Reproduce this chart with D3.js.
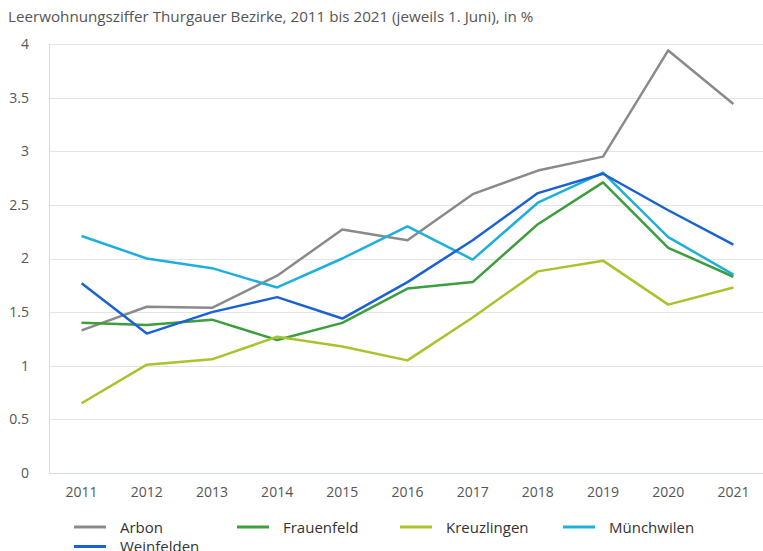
<!DOCTYPE html>
<html>
<head>
<meta charset="utf-8">
<script src="https://cdn.jsdelivr.net/npm/d3@7"></script>
<style>
  body { margin: 0; background: #fff; }
  svg { display: block; font-family: "Open Sans", "DejaVu Sans", sans-serif; }
</style>
</head>
<body>
<svg id="chart"></svg>
<script>
// data
var years = [2011, 2012, 2013, 2014, 2015, 2016, 2017, 2018, 2019, 2020, 2021]
var arbon       = [1.33, 1.55, 1.54, 1.84, 2.27, 2.17, 2.60, 2.82, 2.95, 3.94, 3.44]
var frauenfeld  = [1.40, 1.38, 1.43, 1.24, 1.40, 1.72, 1.78, 2.32, 2.71, 2.10, 1.83]
var kreuzlingen = [0.65, 1.01, 1.06, 1.27, 1.18, 1.05, 1.45, 1.88, 1.98, 1.57, 1.73]
var muenchwilen = [2.21, 2.00, 1.91, 1.73, 2.00, 2.30, 1.99, 2.52, 2.80, 2.20, 1.85]
var weinfelden  = [1.77, 1.30, 1.50, 1.64, 1.44, 1.78, 2.17, 2.61, 2.79, 2.45, 2.13]
var seriesNames = ["Arbon", "Frauenfeld", "Kreuzlingen", "Münchwilen", "Weinfelden"]
var yTicks = [0, 0.5, 1, 1.5, 2, 2.5, 3, 3.5, 4]
var title = "Leerwohnungsziffer Thurgauer Bezirke, 2011 bis 2021 (jeweils 1. Juni), in %"

var colors = ["#8a8a8a", "#3c9e3c", "#a6c52a", "#1eb0dc", "#1a62d4"]

var screen = {width: 763, height: 551}
var margins = {top: 44, right: -3, bottom: 78, left: 49}

var series = [arbon, frauenfeld, kreuzlingen, muenchwilen, weinfelden].map(function(vals, i){
    return {name: seriesNames[i], values: vals, color: colors[i]}
})

var svg = d3.select("#chart")
    .attr("width", screen.width)
    .attr("height", screen.height)

var width = screen.width - margins.left - margins.right
var height = screen.height - margins.top - margins.bottom

var xScale = d3.scaleBand()
    .domain(years)
    .range([0, width])

var yScale = d3.scaleLinear()
    .domain([0, 4])
    .range([height, 0])

svg.append("text")
    .attr("x", 8)
    .attr("y", 22)
    .attr("fill", "#555")
    .style("font-size", "15.2px")
    .text(title)

var graph = svg.append("g")
    .attr("transform", "translate(" + margins.left + "," + margins.top + ")")

// grid lines
graph.append("g")
    .selectAll("line")
    .data(yTicks)
    .enter()
    .append("line")
    .attr("x1", 0)
    .attr("x2", width)
    .attr("y1", function(d){ return Math.round(yScale(d)) + 0.5 })
    .attr("y2", function(d){ return Math.round(yScale(d)) + 0.5 })
    .attr("stroke", "#e4e4e4")
    .attr("stroke-width", 1)

// y axis labels
var yAxis = d3.axisLeft(yScale).tickValues(yTicks).tickSize(0).tickPadding(20)
    .tickFormat(function(d){ return String(d) })
graph.append("g")
    .attr("class", "yaxis")
    .call(yAxis)
graph.select(".yaxis .domain").remove()
graph.selectAll(".yaxis text")
    .attr("fill", "#555")
    .style("font-size", "14px")
    .style("font-family", "'Open Sans', sans-serif")

// x axis
var xAxis = d3.axisBottom(xScale).tickSize(0).tickPadding(14)
graph.append("g")
    .attr("class", "xaxis")
    .attr("transform", "translate(0," + height + ")")
    .call(xAxis)
graph.select(".xaxis .domain").remove()
graph.selectAll(".xaxis text")
    .attr("fill", "#555")
    .style("font-size", "14px")
    .style("font-family", "'Open Sans', sans-serif")

// axis lines
graph.append("line")
    .attr("x1", 0.5).attr("x2", 0.5)
    .attr("y1", 0).attr("y2", height)
    .attr("stroke", "#d6dbe8")
graph.append("line")
    .attr("x1", 0).attr("x2", width)
    .attr("y1", height + 0.5).attr("y2", height + 0.5)
    .attr("stroke", "#d6dbe8")

var lineGenerator = d3.line()
    .x(function(v, i){ return xScale(years[i]) + xScale.bandwidth() / 2 })
    .y(function(v){ return yScale(v) })

graph.append("g")
    .selectAll("path")
    .data(series)
    .enter()
    .append("path")
    .attr("d", function(s){ return lineGenerator(s.values) })
    .attr("fill", "none")
    .attr("stroke", function(s){ return s.color })
    .attr("stroke-width", 2.5)
    .attr("stroke-linejoin", "round")

// legend
var legend = svg.append("g").attr("id", "legend")
var items = legend.selectAll("g")
    .data(series)
    .enter()
    .append("g")
    .attr("transform", function(s, i){
        var col = i % 4, row = Math.floor(i / 4)
        return "translate(" + (74 + col * 163) + "," + (527 + row * 19.5) + ")"
    })
items.append("line")
    .attr("x1", 0).attr("x2", 32)
    .attr("y1", 0).attr("y2", 0)
    .attr("stroke", function(s){ return s.color })
    .attr("stroke-width", 3)
items.append("text")
    .attr("x", 46)
    .attr("y", 5.5)
    .attr("fill", "#333")
    .style("font-size", "15px")
    .text(function(s){ return s.name })
</script>
</body>
</html>
